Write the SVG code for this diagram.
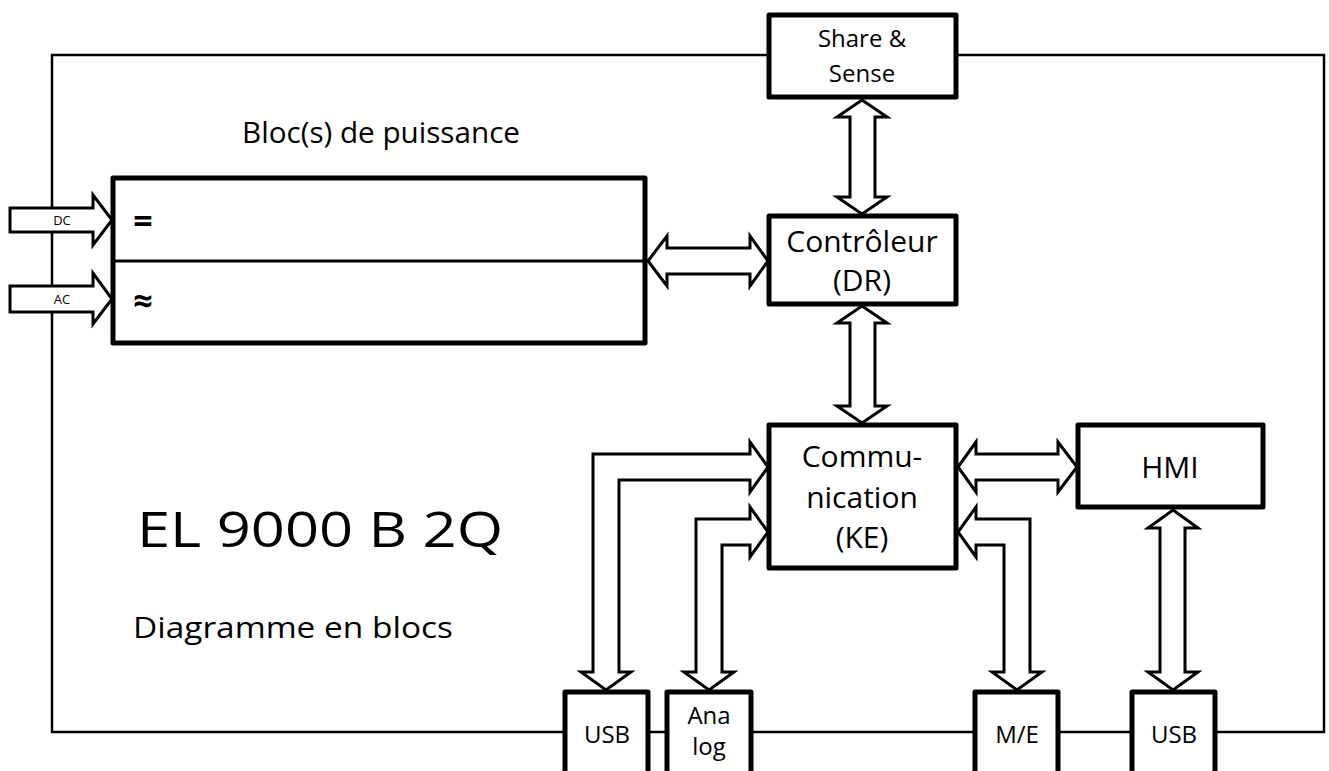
<svg xmlns="http://www.w3.org/2000/svg" width="1329" height="771" viewBox="0 0 1329 771">
<style>
.frame{fill:none;stroke:#000;stroke-width:2.5}
.box{fill:#fff;stroke:#000;stroke-width:5;stroke-linejoin:round}
.arr{fill:#fff;stroke:#000;stroke-width:3;stroke-linejoin:miter}
text{font-family:"Open Sans","Liberation Sans",sans-serif;fill:#000}
.lbl{font-size:30px;text-anchor:middle}
.sm{font-size:24px;text-anchor:middle}
.io{font-size:24px;text-anchor:middle}
.tiny{font-size:13px;text-anchor:middle}
</style>
<rect width="1329" height="771" fill="#fff"/>
<g id="frame">
<rect class="frame" x="52" y="55" width="1272" height="677"/>
</g>
<g id="texts">
<text x="242" y="143" font-size="29" textLength="278" lengthAdjust="spacingAndGlyphs">Bloc(s) de puissance</text>
<text x="137" y="547" font-size="50" textLength="366" lengthAdjust="spacingAndGlyphs">EL 9000 B 2Q</text>
<text x="133" y="638" font-size="29" textLength="320" lengthAdjust="spacingAndGlyphs">Diagramme en blocs</text>
</g>
<g id="power">
<rect class="box" x="113" y="178" width="532" height="165"/>
<line x1="113" y1="261" x2="645" y2="261" stroke="#000" stroke-width="3"/>
<text x="143" y="233" font-size="34" font-weight="bold" text-anchor="middle">=</text>
<text x="143" y="313" font-size="34" font-weight="bold" text-anchor="middle">≈</text>
</g>
<g id="share">
<rect class="box" x="769" y="15" width="187" height="82"/>
<text class="sm" x="862" y="47">Share &amp;</text>
<text class="sm" x="862" y="82">Sense</text>
</g>
<g id="controller">
<rect class="box" x="769" y="216" width="187" height="88"/>
<text class="lbl" x="862" y="252">Contrôleur</text>
<text class="lbl" x="862" y="291">(DR)</text>
</g>
<g id="communication">
<rect class="box" x="769" y="425" width="187" height="143"/>
<text class="lbl" x="862" y="467">Commu-</text>
<text class="lbl" x="862" y="508">nication</text>
<text class="lbl" x="862" y="548">(KE)</text>
</g>
<g id="hmi">
<rect class="box" x="1078" y="425" width="185" height="82"/>
<text class="lbl" x="1170" y="478">HMI</text>
</g>
<g id="usb1">
<rect class="box" x="565" y="692" width="83" height="90"/>
<text class="io" x="607" y="743">USB</text>
</g>
<g id="analog">
<rect class="box" x="667" y="692" width="84" height="90"/>
<text class="io" x="709" y="724" font-size="22">Ana</text>
<text class="io" x="709" y="755" font-size="22">log</text>
</g>
<g id="me">
<rect class="box" x="975" y="692" width="83" height="90"/>
<text class="io" x="1017" y="743">M/E</text>
</g>
<g id="usb2">
<rect class="box" x="1132" y="692" width="83" height="90"/>
<text class="io" x="1174" y="743">USB</text>
</g>
<g id="connectors">
<path class="arr" d="M10,208 L93,208 L93,195 L112,220 L93,245 L93,232 L10,232 Z"/>
<text class="tiny" x="62" y="225">DC</text>
<path class="arr" d="M10,286 L93,286 L93,273 L112,299 L93,324 L93,312 L10,312 Z"/>
<text class="tiny" x="62" y="304">AC</text>
<path class="arr" d="M862,100 L887,117 L875,117 L875,197 L887,197 L862,214 L837,197 L850,197 L850,117 L837,117 Z"/>
<path class="arr" d="M862,306 L887,323 L875,323 L875,406 L887,406 L862,423 L837,406 L850,406 L850,323 L837,323 Z"/>
<path class="arr" d="M648,261 L667,236 L667,248 L750,248 L750,236 L768,261 L750,286 L750,274 L667,274 L667,286 Z"/>
<path class="arr" d="M958,467 L976,442 L976,454 L1058,454 L1058,442 L1077,467 L1058,492 L1058,480 L976,480 L976,492 Z"/>
<path class="arr" d="M1173,510 L1198,528 L1185,528 L1185,672 L1198,672 L1173,690 L1148,672 L1160,672 L1160,528 L1148,528 Z"/>
<path class="arr" d="M768,467 L750,442 L750,454 L593,454 L593,672 L581,672 L606,690 L631,672 L619,672 L619,480 L750,480 L750,492 Z"/>
<path class="arr" d="M768,532 L750,507 L750,519 L696,519 L696,672 L684,672 L709,690 L734,672 L722,672 L722,545 L750,545 L750,557 Z"/>
<path class="arr" d="M958,532 L976,507 L976,519 L1030,519 L1030,672 L1042,672 L1017,690 L992,672 L1004,672 L1004,545 L976,545 L976,557 Z"/>
</g>
</svg>
